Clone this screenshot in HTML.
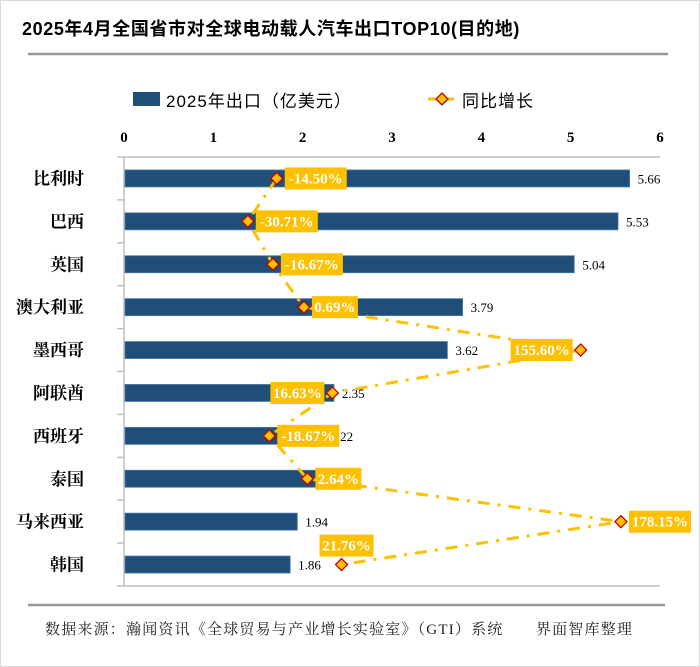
<!DOCTYPE html>
<html><head><meta charset="utf-8"><style>
body{margin:0;background:#fff;}
svg{display:block;}
</style></head><body>
<svg id="c" width="700" height="667" xmlns="http://www.w3.org/2000/svg">
<rect x="0.5" y="0.5" width="699" height="666" fill="#fff" stroke="#d9d9d9"/>
<text x="22" y="35" font-family="'Liberation Sans','Noto Sans CJK SC',sans-serif" font-weight="bold" font-size="18" letter-spacing="0.6" fill="#000">2025年4月全国省市对全球电动载人汽车出口TOP10(目的地)</text>
<line x1="28" y1="54" x2="668" y2="54" stroke="#999" stroke-width="2.5"/>
<g>
<rect x="133" y="92" width="27" height="14" fill="#1f4e79"/>
<text x="166" y="107" font-family="'Liberation Sans','Noto Sans CJK SC',sans-serif" font-size="17" letter-spacing="1">2025年出口（亿美元）</text>
<line x1="428" y1="99" x2="454" y2="99" stroke="#ffc000" stroke-width="3" stroke-dasharray="8,4,2,4"/>
<path d="M442 93 L448 99 L442 105 L436 99Z" fill="#ffc000" stroke="#c00000" stroke-width="1.3"/>
<text x="462" y="107" font-family="'Liberation Sans','Noto Sans CJK SC',sans-serif" font-size="17" letter-spacing="1">同比增长</text>
</g>
<g id="plot"></g>
<line x1="28" y1="605" x2="665" y2="605" stroke="#999" stroke-width="2.5"/>
<text x="45" y="634" font-family="'Liberation Serif','Noto Serif CJK SC',serif" font-size="15" letter-spacing="1.2" fill="#222">数据来源：瀚闻资讯《全球贸易与产业增长实验室》（GTI）系统　　界面智库整理</text>
</svg>
<script>
const categories=["比利时","巴西","英国","澳大利亚","墨西哥","阿联酋","西班牙","泰国","马来西亚","韩国"];
const exportValues=[5.66,5.53,5.04,3.79,3.62,2.35,2.22,2.19,1.94,1.86];
const growthValues=[-14.50,-30.71,-16.67,0.69,155.60,16.63,-18.67,2.64,178.15,21.76];
const growthLabels=["-14.50%","-30.71%","-16.67%","0.69%","155.60%","16.63%","-18.67%","2.64%","178.15%","21.76%"];
const labelSide=["right","right","right","right","left","left","right","right","right","above"];
const xTicks=[0,1,2,3,4,5,6];

const NS="http://www.w3.org/2000/svg";
const g=document.getElementById('plot');
const X0=124,X1=660,TOP=157,BOT=586;
const xs=v=>X0+v/6*(X1-X0);
const gx=v=>X0+(v+100)/300*(X1-X0);
const band=(BOT-TOP)/categories.length;
const yc=i=>TOP+band*(i+0.5);
function mk(tag,attrs){const e=document.createElementNS(NS,tag);for(const k in attrs)e.setAttribute(k,attrs[k]);g.appendChild(e);return e;}
const serif="'Liberation Serif','Noto Serif CJK SC',serif";

xTicks.forEach(t=>{
  const e=mk('text',{x:xs(t),y:142,'text-anchor':'middle','font-family':serif,'font-weight':'bold','font-size':15});
  e.textContent=t;
  
  
});
const ax=mk('line',{x1:X0-7,y1:TOP,x2:X1,y2:TOP,stroke:'#bfbfbf','stroke-width':1.5});


const bx=mk('line',{x1:X0-7,y1:BOT,x2:X1,y2:BOT,stroke:'#bfbfbf','stroke-width':1.5});


const ya=mk('line',{x1:X0,y1:TOP,x2:X0,y2:BOT,stroke:'#bfbfbf','stroke-width':1.5});


for(let i=1;i<categories.length;i++){
  const t=mk('line',{x1:X0-7,y1:TOP+band*i,x2:X0,y2:TOP+band*i,stroke:'#bfbfbf','stroke-width':1.5});
  
  
}
categories.forEach((c,i)=>{
  const t=mk('text',{x:84,y:yc(i)+6,'text-anchor':'end','font-family':serif,'font-weight':'bold','font-size':17});
  t.textContent=c;
  
  
  const b=mk('rect',{x:X0+1,y:yc(i)-8.5,width:xs(exportValues[i])-X0-1,height:17,fill:'#1f4e79',stroke:'#4a7aa8','stroke-width':0.8});
  
  
  const v=mk('text',{x:xs(exportValues[i])+8,y:yc(i)+5,'font-family':serif,'font-size':13});
  v.textContent=exportValues[i].toFixed(2);
  
  
});
const pts=growthValues.map((v,i)=>gx(v)+','+yc(i)).join(' ');
const ln=mk('polyline',{points:pts,fill:'none',stroke:'#ffc000','stroke-width':3,'stroke-dasharray':'12,8,3,8'});


growthValues.forEach((v,i)=>{
  const x=gx(v),y=yc(i);
  const m=mk('path',{d:`M${x} ${y-6} L${x+6} ${y} L${x} ${y+6} L${x-6} ${y}Z`,fill:'#ffc000',stroke:'#c00000','stroke-width':1.3});
  
  
  const w=growthLabels[i].length*8+6,h=22;
  let bx2,by;
  if(labelSide[i]==='right'){bx2=x+8;by=y-h/2;}
  else if(labelSide[i]==='left'){bx2=x-8-w;by=y-h/2;}
  else {bx2=x-22;by=y-30;}
  const r=mk('rect',{x:bx2,y:by,width:w,height:h,fill:'#ffc000'});
  
  
  const t=mk('text',{x:bx2+w/2,y:by+16,'text-anchor':'middle','font-family':serif,'font-weight':'bold','font-size':15,fill:'#fff'});
  t.textContent=growthLabels[i];
  
  
});
</script>
</body></html>
